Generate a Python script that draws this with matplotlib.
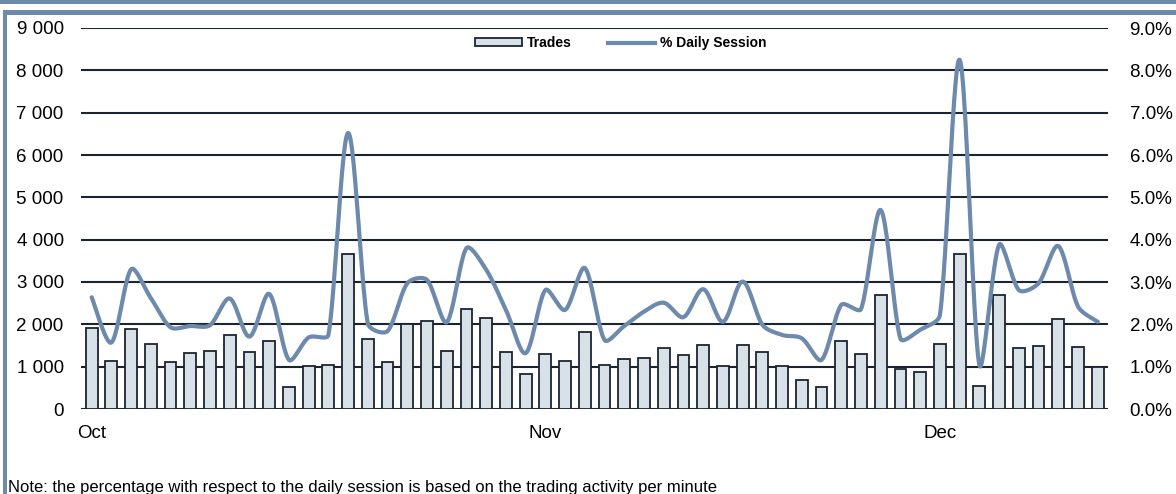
import numpy as np
import matplotlib.pyplot as plt
from matplotlib.lines import Line2D
from matplotlib.patches import Rectangle

# Данные: число сделок по торговым дням (окт - дек) и % дневной сессии
months = ['Oct', 'Nov', 'Dec']
month_start = [0, 23, 43]

trades = [1920, 1135, 1890, 1535, 1120, 1315, 1365, 1750, 1335, 1600,
          510, 1015, 1040, 3655, 1665, 1110, 2000, 2080, 1365, 2355,
          2150, 1340, 835, 1290, 1140, 1810, 1040, 1180, 1210, 1435,
          1270, 1510, 1020, 1505, 1350, 1020, 685, 525, 1600, 1300,
          2700, 945, 875, 1530, 3660, 550, 2700, 1440, 1490, 2125,
          1475, 995]

daily_session = [2.64, 1.57, 3.30, 2.62, 1.93, 1.96, 1.98, 2.61, 1.71, 2.72,
                 1.16, 1.69, 1.75, 6.52, 2.02, 1.84, 2.97, 3.05, 2.05, 3.80,
                 3.29, 2.34, 1.32, 2.81, 2.34, 3.33, 1.63, 1.96, 2.30, 2.51,
                 2.17, 2.83, 2.06, 3.01, 1.99, 1.75, 1.67, 1.16, 2.46, 2.36,
                 4.70, 1.66, 1.87, 2.22, 8.25, 1.04, 3.88, 2.81, 2.97, 3.85,
                 2.42, 2.06]

BLUE = '#6d8aac'
DARK = '#1b2431'
FILL = '#d9e1e8'

# пикселей на единицу по x и на 1% по y (для сглаживания как в Excel)
PX_X = 19.72
PX_Y = 42.3


# Сглаженная линия как в Excel: кривые Безье, контрольные точки
# укорачиваются, если соседний отрезок сильно длиннее
def smooth(x, y, n=24):
    p = np.column_stack([np.asarray(x, float) * PX_X, np.asarray(y, float) * PX_Y])
    p = np.vstack([p[0], p, p[-1]])
    t = np.linspace(0, 1, n, endpoint=False)[:, None]
    f = 1 / 6
    pts = []
    for i in range(1, len(p) - 2):
        p0, p1, p2, p3 = p[i - 1], p[i], p[i + 1], p[i + 2]
        d01 = np.hypot(*(p1 - p0))
        d12 = np.hypot(*(p2 - p1))
        d23 = np.hypot(*(p3 - p2))
        f1 = f * 2 * d12 / (d01 + d12) if d01 + d12 > 0 else f
        f2 = f * 2 * d12 / (d12 + d23) if d12 + d23 > 0 else f
        f1 = min(f1, f)
        f2 = min(f2, f)
        c1 = p1 + (p2 - p0) * f1
        c2 = p2 - (p3 - p1) * f2
        pts.append((1 - t) ** 3 * p1 + 3 * (1 - t) ** 2 * t * c1
                   + 3 * (1 - t) * t ** 2 * c2 + t ** 3 * p2)
    pts.append(p[-2][None, :])
    pts = np.vstack(pts)
    return pts[:, 0] / PX_X, pts[:, 1] / PX_Y


plt.rcParams['font.family'] = ['Liberation Sans', 'DejaVu Sans']

fig = plt.figure(figsize=(11.76, 4.94), dpi=100)
ax = fig.add_axes([81 / 1176, 1 - 409 / 494, (1108 - 81) / 1176, (409 - 28) / 494])

x = np.arange(len(trades))

# Сетка
for v in range(0, 10000, 1000):
    ax.axhline(v, color=DARK, lw=1.5, zorder=1)

ax.bar(x, trades, width=0.6, color=FILL, edgecolor=DARK, linewidth=1.3, zorder=2)

ax.set_ylim(0, 9000)
ax.set_xlim(-0.54, len(trades) - 0.48)
ax.set_yticks(range(0, 10000, 1000))
ax.set_yticklabels([f'{v:,}'.replace(',', ' ') for v in range(0, 10000, 1000)])
ax.set_xticks(month_start)
ax.set_xticklabels(months)
ax.tick_params(axis='y', length=0, pad=12.5, labelsize=13.5)
ax.tick_params(axis='x', length=0, pad=11.5, labelsize=13.5)
for s in ax.spines.values():
    s.set_visible(False)

# Правая ось - % дневной сессии
ax2 = ax.twinx()
sx, sy = smooth(x, daily_session)
ax2.plot(sx, sy, color=BLUE, lw=3, solid_capstyle='round', zorder=3)
ax2.set_ylim(0, 9)
ax2.set_yticks(range(10))
ax2.set_yticklabels([f'{v:.1f}%' for v in range(10)])
ax2.tick_params(axis='y', length=0, pad=15.5, labelsize=13.5)
for s in ax2.spines.values():
    s.set_visible(False)

# Легенда
handles = [Rectangle((0, 0), 1, 1, facecolor=FILL, edgecolor=DARK, linewidth=1.3),
           Line2D([0], [0], color=BLUE, lw=3)]
fig.legend(handles, ['Trades', '% Daily Session'], loc='center',
           bbox_to_anchor=(621 / 1176, 1 - 43 / 494), ncol=2, frameon=False,
           prop={'weight': 'bold', 'size': 10}, handlelength=3.4, handleheight=0.5,
           handletextpad=0.35, columnspacing=2.6)

# Синяя рамка
fig.add_artist(Rectangle((0, 1 - 4.3 / 494), 1, 4.3 / 494, transform=fig.transFigure,
                         facecolor=BLUE, edgecolor='none'))
fig.add_artist(Rectangle((2.7 / 1176, 1 - 15 / 494), 1, 5 / 494, transform=fig.transFigure,
                         facecolor=BLUE, edgecolor='none'))
fig.add_artist(Rectangle((2.7 / 1176, 0), 4.6 / 1176, 1 - 10 / 494, transform=fig.transFigure,
                         facecolor=BLUE, edgecolor='none'))

fig.text(8 / 1176, 2.5 / 494,
         'Note: the percentage with respect to the daily session is based on the trading activity per minute',
         fontsize=12, ha='left', va='baseline')

fig.savefig('out.png', dpi=100)
